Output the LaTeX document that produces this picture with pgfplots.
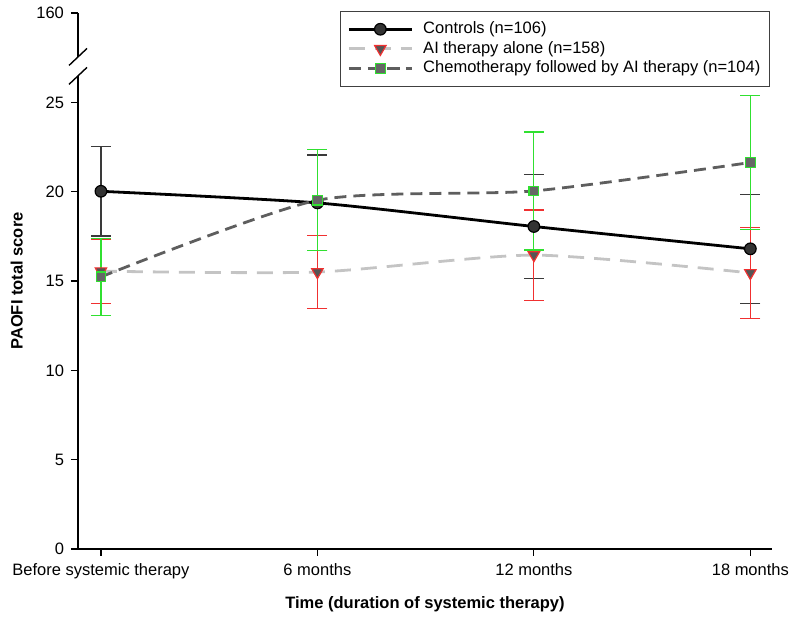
\documentclass[border=0pt]{standalone}
\usepackage{pgfplots}
\pgfplotsset{compat=1.18}
\usepackage{fontspec}
\setmainfont{Liberation Sans}
\definecolor{ctrlerr}{HTML}{3A3A3A}
\definecolor{aierr}{HTML}{F03030}
\definecolor{chemerr}{HTML}{30E030}
\definecolor{ailine}{HTML}{C4C4C4}
\definecolor{chemline}{HTML}{5E5E5E}
\definecolor{mfill}{HTML}{555555}
\begin{document}
\begin{tikzpicture}[font=\fontsize{8.25}{10}\selectfont]
\begin{axis}[
  width=347pt, height=268pt, scale only axis,
  xmin=-0.106, xmax=3.1, ymin=0, ymax=30,
  axis lines*=left,
  clip=false,
  xtick={0,1,2,3},
  xticklabels={Before systemic therapy, 6 months, 12 months, 18 months},
  ytick={0,5,10,15,20,25,30},
  yticklabels={0,5,10,15,20,25,160},
  tick align=outside,
  major tick length=3.5pt,
  tick style={black, line width=0.6pt},
  axis line style={line width=0.7pt},
  /pgf/number format/assume math mode=true,
  xlabel={\bfseries Time (duration of systemic therapy)},
  ylabel={\bfseries PAOFI total score},
  xlabel style={yshift=-2pt},
  ylabel style={yshift=0pt},
  legend style={at={(rel axis cs:0.997,1.004)}, anchor=north east,
    draw=black!75, line width=0.6pt, cells={anchor=west},
    inner xsep=3.5pt, inner ysep=4pt, row sep=0pt,
    nodes={inner sep=1pt, text height=6pt, text depth=1.8pt},
    font=\fontsize{8.25}{10}\selectfont},
  legend image code/.code={\draw[mark repeat=2,mark phase=2] plot coordinates {(0pt,0pt) (15.75pt,0pt) (31.5pt,0pt)};\path (35.5pt,0pt);},
]
\addplot[black, line width=1.4pt, smooth, tension=0.4,
  mark=*, mark size=2.9pt, mark options={solid, fill=black!80, draw=black, line width=0.6pt},
  error bars/.cd, y dir=both, y explicit,
  error bar style={ctrlerr, line width=0.6pt, solid},
  error mark options={rotate=90, mark size=5pt, ctrlerr, line width=0.6pt}]
coordinates {(0,20.02) +- (0,2.5) (1,19.37) +- (0,2.68) (2,18.05) +- (0,2.9) (3,16.8) +- (0,3.05)};
\addlegendentry{Controls (n=106)}
\addplot[ailine, line width=1.4pt, smooth, tension=0.4, dash pattern=on 8pt off 5pt,
  mark=triangle*, mark size=3.3pt, mark options={solid, rotate=180, fill=mfill, draw=aierr, line width=0.6pt},
  error bars/.cd, y dir=both, y explicit,
  error bar style={aierr, line width=0.6pt, solid},
  error mark options={rotate=90, mark size=5pt, aierr, line width=0.6pt}]
coordinates {(0,15.55) +- (0,1.8) (1,15.5) +- (0,2.06) (2,16.45) +- (0,2.52) (3,15.45) +- (0,2.56)};
\addlegendentry{AI therapy alone (n=158)}
\addplot[chemline, line width=1.4pt, smooth, tension=0.4, dash pattern=on 6pt off 3.5pt,
  mark=square*, mark size=2.4pt, mark options={solid, fill=black!60, draw=chemerr, line width=0.6pt},
  error bars/.cd, y dir=both, y explicit,
  error bar style={chemerr, line width=0.6pt, solid},
  error mark options={rotate=90, mark size=5pt, chemerr, line width=0.6pt}]
coordinates {(0,15.23) +- (0,2.15) (1,19.52) +- (0,2.83) (2,20.04) +- (0,3.3) (3,21.63) +- (0,3.75)};
\addlegendentry{Chemotherapy followed by AI therapy (n=104)}
\coordinate (b1) at (axis cs:-0.106,27.54);
\coordinate (b2) at (axis cs:-0.106,26.48);
\coordinate (orig) at (rel axis cs:0,0);
\end{axis}
\fill[white] ([xshift=-1.5pt]b2) rectangle ([xshift=1.5pt]b1);
\draw[line width=0.7pt] ([shift={(-4.5pt,-4.25pt)}]b1) -- ([shift={(4.5pt,4.25pt)}]b1);
\draw[line width=0.7pt] ([shift={(-4.5pt,-4.25pt)}]b2) -- ([shift={(4.5pt,4.25pt)}]b2);
\pgfresetboundingbox
\path[use as bounding box] ([shift={(-39pt,-35pt)}]orig) rectangle ([shift={(361pt,274.5pt)}]orig);
\end{tikzpicture}
\end{document}
